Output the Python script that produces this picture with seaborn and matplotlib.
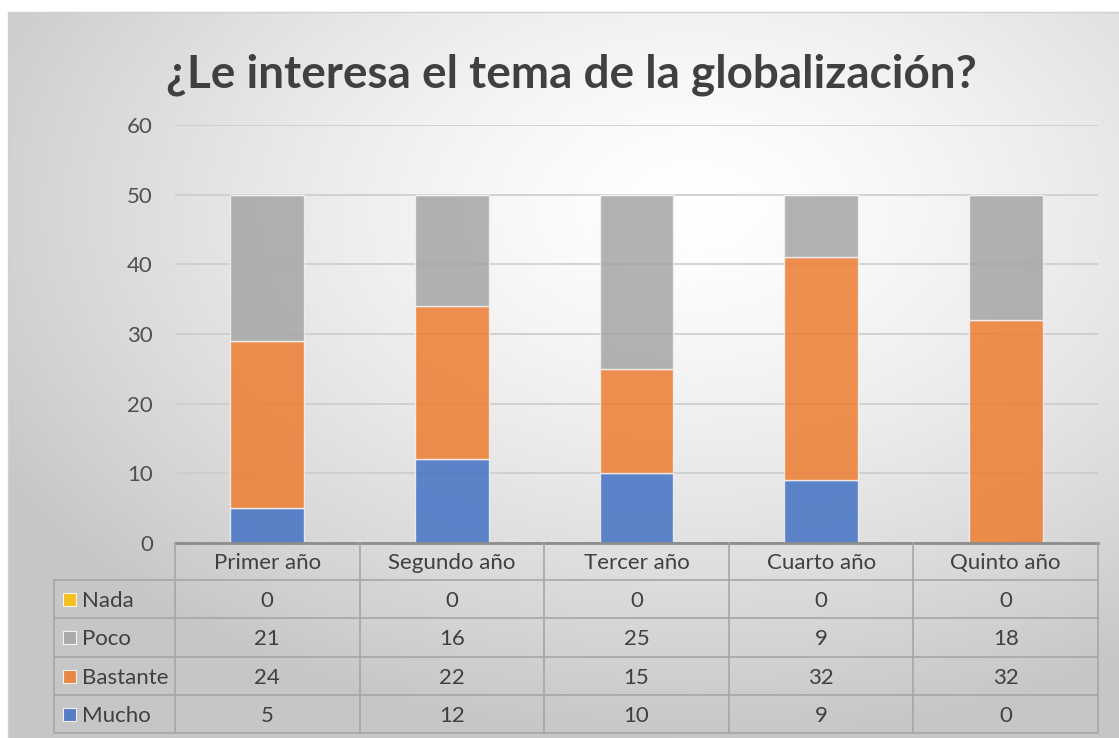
import numpy as np
import pandas as pd
import matplotlib
matplotlib.use("Agg")
import matplotlib.pyplot as plt
import seaborn as sns
from matplotlib.patches import Rectangle

# datos
categorias = ["Primer año", "Segundo año", "Tercer año", "Cuarto año", "Quinto año"]
nada = [0, 0, 0, 0, 0]
poco = [21, 16, 25, 9, 18]
bastante = [24, 22, 15, 32, 32]
mucho = [5, 12, 10, 9, 0]
orden_tabla = ["Nada", "Poco", "Bastante", "Mucho"]
orden_pila = ["Mucho", "Bastante", "Poco", "Nada"]
colores = {"Mucho": "#4472C4", "Bastante": "#ED7D31", "Poco": "#A5A5A5", "Nada": "#FFC000"}
titulo = "¿Le interesa el tema de la globalización?"
yticks = [0, 10, 20, 30, 40, 50, 60]

df = pd.DataFrame({"Año": categorias, "Nada": nada, "Poco": poco,
                   "Bastante": bastante, "Mucho": mucho})

sns.set_theme(style="white")
plt.rcParams["font.family"] = ["Lato", "DejaVu Sans"]
texto = "#404040"
fs = 16

W, H = 1119, 738
fig = plt.figure(figsize=(W / 100, H / 100), dpi=100)
fig.patch.set_facecolor("white")

# fondo con degradado radial (estilo Excel)
bg = fig.add_axes([0, 0, 1, 1], zorder=-10)
yy, xx = np.mgrid[0:H, 0:W]
cx, cy = 0.62 * W, 0.28 * H
r = np.hypot((xx - cx) / W, (yy - cy) / H)
shade = 1 - 0.22 * np.clip(r / 0.72, 0, 1) ** 1.4
shade[(xx < 8) | (yy < 12)] = 1.0
bg.imshow(np.dstack([shade] * 3), extent=[0, W, H, 0], aspect="auto")
bg.plot([8, W], [12, 12], color="#d0d0d0", lw=1)
bg.plot([8, 8], [12, H], color="#d0d0d0", lw=1)
bg.set_xlim(0, W)
bg.set_ylim(H, 0)
bg.axis("off")

# área de trazado
x0, y_top, y_base, x1 = 175, 125, 543, 1098
ax = fig.add_axes([x0 / W, 1 - y_base / H, (x1 - x0) / W, (y_base - y_top) / H])
ax.patch.set_alpha(0)

base = np.zeros(len(categorias))
for s in orden_pila:
    sns.barplot(data=df, x="Año", y=s, order=categorias, color=colores[s],
                width=0.4, bottom=base, alpha=0.85, saturation=1,
                edgecolor="#f2f2f2", linewidth=1, ax=ax)
    base = base + df[s].values

ax.set_ylim(0, 60)
ax.set_xlim(-0.5, len(categorias) - 0.5)
ax.set_yticks(yticks)
ax.set_xticks([])
ax.set_xlabel("")
ax.set_ylabel("")
ax.yaxis.grid(True, color="#cccccc", lw=1.2)
ax.set_axisbelow(True)
for side in ["top", "right", "left"]:
    ax.spines[side].set_visible(False)
ax.spines["bottom"].set_color("#8c8c8c")
ax.spines["bottom"].set_linewidth(2)
ax.spines["bottom"].set_zorder(5)
ax.tick_params(axis="y", length=0, pad=16, labelsize=fs, labelcolor="#505050")

# tabla de datos (capa superior en píxeles)
tb = fig.add_axes([0, 0, 1, 1], zorder=5)
tb.set_xlim(0, W)
tb.set_ylim(H, 0)
tb.axis("off")
borde = "#a6a6a6"
col_w = (x1 - x0) / len(categorias)
lab_x = 54
head_b = 580
row_h = 38.25
filas_y = [head_b + row_h * k for k in range(len(orden_tabla) + 1)]
for yv in filas_y:
    tb.plot([lab_x, x1], [yv, yv], color=borde, lw=1.2, solid_capstyle="butt")
tb.plot([lab_x, lab_x], [head_b, filas_y[-1]], color=borde, lw=1.2)
for k in range(len(categorias) + 1):
    xv = x0 + col_w * k
    tb.plot([xv, xv], [y_base, filas_y[-1]], color=borde, lw=1.2)
for j, c in enumerate(categorias):
    tb.text(x0 + col_w * (j + 0.5), 569, c, ha="center",
            va="baseline", fontsize=fs, color=texto)
for i, s in enumerate(orden_tabla):
    yb = filas_y[i] + 27
    yc = filas_y[i] + row_h / 2 + 1
    tb.add_patch(Rectangle((63, yc - 7), 13, 13, facecolor=colores[s], alpha=0.85,
                           edgecolor="white", lw=0.8))
    tb.text(82, yb, s, ha="left", va="baseline", fontsize=fs, color=texto)
    for j, v in enumerate(df[s].values):
        tb.text(x0 + col_w * (j + 0.5), yb, str(v), ha="center",
                va="baseline", fontsize=fs, color=texto)

fig.text(571 / W, 1 - 75 / H, titulo, ha="center", va="center", fontsize=33,
         fontweight="bold", color=texto)

fig.savefig("out.png", dpi=100)
